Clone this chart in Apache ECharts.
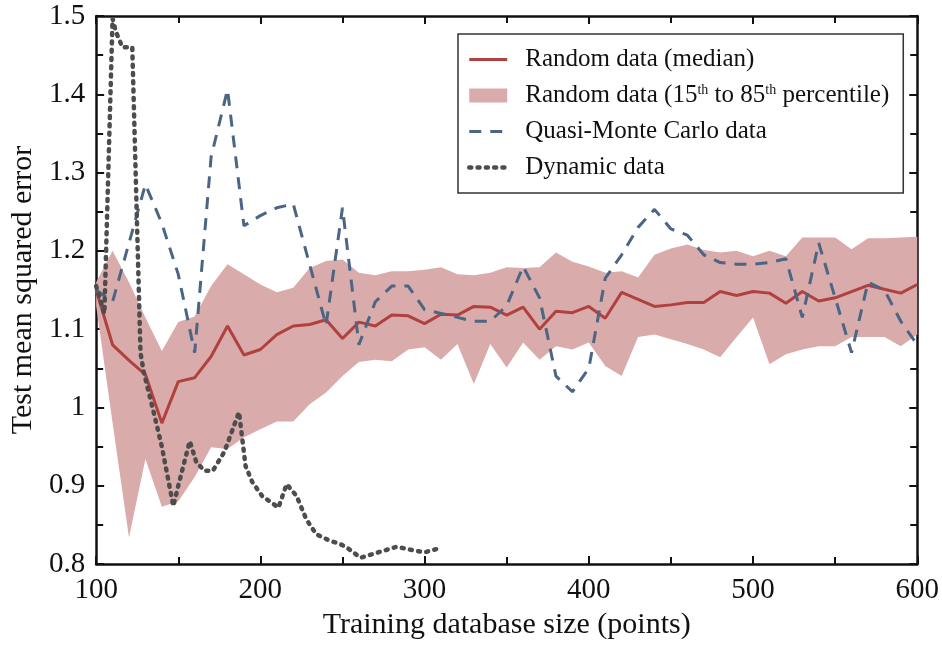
<!DOCTYPE html>
<html><head><meta charset="utf-8">
<script src="https://cdn.jsdelivr.net/npm/echarts@6/dist/echarts.min.js"></script>
<style>html,body{margin:0;padding:0;background:#fff}#c{width:942px;height:645px}</style>
</head><body><div id="c"></div>
<script>
// ---- data ----
const xSizes = [100,110,120,130,140,150,160,170,180,190,200,210,220,230,240,250,260,270,280,290,300,310,320,330,340,350,360,370,380,390,400,410,420,430,440,450,460,470,480,490,500,510,520,530,540,550,560,570,580,590,600];
const medianValues = [1.15,1.08,1.06,1.042,0.98,1.033,1.038,1.065,1.104,1.067,1.074,1.093,1.104,1.106,1.112,1.088,1.109,1.104,1.118,1.117,1.107,1.119,1.118,1.129,1.128,1.118,1.128,1.10,1.123,1.121,1.129,1.114,1.147,1.138,1.129,1.131,1.134,1.134,1.148,1.143,1.148,1.146,1.133,1.148,1.136,1.140,1.148,1.156,1.151,1.146,1.157];
const upperValues = [1.16,1.20,1.16,1.115,1.072,1.109,1.116,1.155,1.183,1.17,1.157,1.147,1.153,1.178,1.187,1.189,1.172,1.169,1.174,1.174,1.176,1.179,1.17,1.169,1.172,1.179,1.178,1.179,1.198,1.186,1.18,1.172,1.174,1.166,1.195,1.203,1.208,1.201,1.198,1.20,1.193,1.20,1.193,1.217,1.217,1.217,1.202,1.216,1.216,1.217,1.218];
const lowerValues = [1.13,0.98,0.834,0.934,0.873,0.88,0.911,0.949,0.947,0.962,0.972,0.982,0.982,1.004,1.019,1.04,1.058,1.061,1.059,1.074,1.077,1.061,1.081,1.03,1.081,1.051,1.083,1.061,1.078,1.074,1.083,1.053,1.04,1.09,1.093,1.087,1.081,1.074,1.064,1.09,1.115,1.055,1.068,1.074,1.078,1.078,1.09,1.09,1.09,1.078,1.093];
const qmcX = [100,110,120,130,140,150,160,170,180,190,200,210,220,240,250,260,270,280,290,300,310,320,330,340,350,360,370,380,390,400,410,420,430,440,450,460,470,480,490,500,510,520,530,540,560,570,580,590,600];
const qmcY = [1.15,1.135,1.21,1.285,1.235,1.17,1.07,1.32,1.406,1.232,1.245,1.255,1.26,1.105,1.255,1.08,1.135,1.155,1.155,1.125,1.12,1.115,1.11,1.11,1.13,1.18,1.14,1.04,1.02,1.05,1.165,1.195,1.23,1.253,1.228,1.22,1.195,1.185,1.183,1.183,1.185,1.19,1.115,1.21,1.07,1.16,1.15,1.11,1.08];
const dynX = [100,105,110,112,116,122,127,129,135,140,147,150,157,161,166,171,178,187,191,195,201,211,216,222,228,234,242,248,252,261,272,283,294,300,309];
const dynY = [1.155,1.12,1.497,1.48,1.46,1.46,1.07,1.045,0.994,0.95,0.874,0.9,0.957,0.93,0.919,0.919,0.943,0.994,0.925,0.905,0.887,0.872,0.902,0.887,0.857,0.838,0.83,0.826,0.822,0.808,0.815,0.822,0.817,0.815,0.82];
const seriesNames = ['Random data (median)','Random data (15th to 85th percentile)','Quasi-Monte Carlo data','Dynamic data'];

// ---- chart ----
const FONT = '"Liberation Serif","Times New Roman",serif';
const INK = '#111';
const RED = '#b0413f', BAND = '#d9abab', BLUE = '#4b6584', DYN = '#4d4d4d';
const zip = (a, b) => a.map((v, i) => [v, b[i]]);

function axisCommon(extra) {
  return Object.assign({
    axisLine: { show: true, onZero: false, lineStyle: { color: INK, width: 2.5 } },
    axisTick: { show: true, inside: true, length: 8, lineStyle: { color: INK, width: 2 } },
    minorTick: { show: true, splitNumber: 2, length: 7, lineStyle: { color: INK, width: 2 } },
    splitLine: { show: false },
    minorSplitLine: { show: false }
  }, extra);
}

const noSymbol = { opacity: 0, borderWidth: 0 };
const redLine = { color: RED, width: 3 };
const blueLine = { color: BLUE, width: 3, type: [12, 9] };
const dynLine = { color: DYN, width: 4.5, type: [2, 6.3], cap: 'round' };

const chart = echarts.init(document.getElementById('c'), null, { renderer: 'canvas' });
chart.setOption({
  animation: false,
  backgroundColor: '#fff',
  grid: { left: 96, right: 23, top: 16, bottom: 81, containLabel: false },
  xAxis: [
    axisCommon({ type: 'value', min: 100, max: 600, interval: 100, position: 'bottom',
      name: 'Training database size (points)', nameLocation: 'middle', nameGap: 44,
      nameTextStyle: { fontFamily: FONT, fontSize: 30, color: INK },
      axisLabel: { fontFamily: FONT, fontSize: 29, color: INK, margin: 12 } }),
    axisCommon({ type: 'value', min: 100, max: 600, interval: 100, position: 'top',
      axisLabel: { show: false } })
  ],
  yAxis: [
    axisCommon({ type: 'value', min: 0.8, max: 1.5, interval: 0.1, position: 'left',
      name: 'Test mean squared error', nameLocation: 'middle', nameGap: 58,
      nameTextStyle: { fontFamily: FONT, fontSize: 30, color: INK },
      axisLabel: { fontFamily: FONT, fontSize: 29, color: INK, margin: 11 } }),
    axisCommon({ type: 'value', min: 0.8, max: 1.5, interval: 0.1, position: 'right',
      axisLabel: { show: false } })
  ],
  legend: {
    orient: 'vertical', left: 458, top: 34,
    padding: [13, 14, 13, 9], itemGap: 11,
    itemWidth: 38, itemHeight: 14,
    backgroundColor: '#fff', borderColor: '#333', borderWidth: 1.5,
    textStyle: {
      fontFamily: FONT, fontSize: 25, color: INK, padding: [0, 0, 0, 13],
      rich: {
        a: { fontFamily: FONT, fontSize: 25, color: INK },
        s: { fontFamily: FONT, fontSize: 14, color: INK, verticalAlign: 'top', lineHeight: 14, padding: [0, 0, 8, 0] }
      }
    },
    formatter: function (name) {
      if (name === seriesNames[1]) return '{a|Random data (15}{s|th}{a| to 85}{s|th}{a| percentile)}';
      return name;
    },
    data: [
      { name: seriesNames[0], itemStyle: noSymbol, lineStyle: redLine },
      { name: seriesNames[1], icon: 'rect', itemStyle: { color: BAND } },
      { name: seriesNames[2], itemStyle: noSymbol, lineStyle: blueLine },
      { name: seriesNames[3], itemStyle: noSymbol, lineStyle: dynLine }
    ]
  },
  series: [
    {
      name: seriesNames[1], type: 'custom', z: 1,
      itemStyle: { color: BAND },
      encode: { x: 0, y: 1 },
      data: [[xSizes[0], medianValues[0]]],
      renderItem: function (params, api) {
        const pts = [];
        for (let i = 0; i < xSizes.length; i++) pts.push(api.coord([xSizes[i], upperValues[i]]));
        for (let i = xSizes.length - 1; i >= 0; i--) pts.push(api.coord([xSizes[i], lowerValues[i]]));
        return { type: 'polygon', shape: { points: pts }, style: { fill: BAND } };
      }
    },
    {
      name: seriesNames[0], type: 'line', z: 3, symbol: 'none',
      data: zip(xSizes, medianValues),
      itemStyle: { color: RED },
      lineStyle: redLine
    },
    {
      name: seriesNames[2], type: 'line', z: 4, symbol: 'none',
      data: zip(qmcX, qmcY),
      itemStyle: { color: BLUE },
      lineStyle: blueLine
    },
    {
      name: seriesNames[3], type: 'line', z: 5, symbol: 'none',
      data: zip(dynX, dynY),
      itemStyle: { color: DYN },
      lineStyle: dynLine
    }
  ]
});
</script>
</body></html>
